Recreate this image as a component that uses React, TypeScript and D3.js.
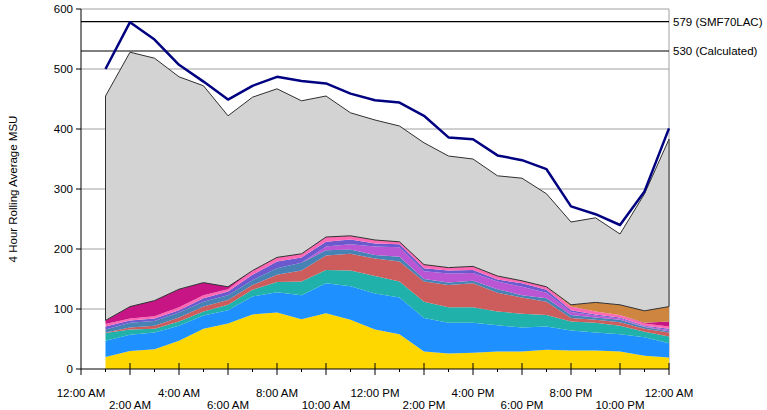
import * as d3 from 'd3';

// hours 1..24 (data points), x axis spans 0..24
const hours = [1, 2, 3, 4, 5, 6, 7, 8, 9, 10, 11, 12, 13, 14, 15, 16, 17, 18, 19, 20, 21, 22, 23, 24];

const tickLabels = [
  '12:00 AM', '2:00 AM', '4:00 AM', '6:00 AM', '8:00 AM', '10:00 AM', '12:00 PM',
  '2:00 PM', '4:00 PM', '6:00 PM', '8:00 PM', '10:00 PM', '12:00 AM',
];

const yTicks = [0, 100, 200, 300, 400, 500, 600];

// stacked layers, bottom to top
const yellow = [20, 30, 33, 47, 67, 76, 91, 94, 83, 93, 82, 66, 58, 29, 26, 27, 29, 29, 32, 31, 31, 29, 22, 19];
const blue = [27, 27, 28, 25, 22, 22, 30, 34, 40, 50, 56, 60, 61, 56, 51, 50, 44, 40, 39, 33, 30, 29, 31, 24];
const teal = [13, 9, 6, 7, 7, 9, 11, 17, 23, 22, 26, 29, 27, 27, 26, 26, 23, 23, 19, 15, 16, 14, 9, 11];
const red = [1, 3, 5, 7, 8, 8, 8, 12, 18, 24, 28, 29, 33, 34, 37, 40, 31, 27, 22, 6, 5, 6, 5, 7];
const steel = [5, 8, 8, 8, 8, 8, 8, 11, 13, 9, 7, 6, 8, 4, 4, 4, 6, 4, 6, 5, 4, 4, 3, 2];
const orchid = [0, 0, 0, 0, 0, 0, 0, 0, 0, 6, 9, 14, 16, 13, 15, 13, 13, 14, 9, 5, 3, 2, 1, 2];
const slate = [5, 4, 4, 4, 6, 6, 9, 11, 9, 8, 8, 5, 5, 5, 5, 5, 3, 6, 5, 3, 2, 2, 1, 2];
const pink = [4, 3, 4, 5, 5, 4, 7, 7, 6, 8, 6, 6, 4, 6, 5, 6, 6, 4, 5, 6, 5, 4, 4, 4];
const violet = [6, 20, 26, 30, 21, 4, 0, 0, 0, 0, 0, 0, 0, 0, 0, 0, 0, 0, 0, 0, 0, 0, 1, 8];
const peru = [0, 0, 0, 0, 0, 0, 0, 0, 0, 0, 0, 0, 0, 0, 0, 0, 0, 0, 0, 3, 15, 17, 20, 25];
const gray = [374, 424, 404, 354, 328, 285, 289, 281, 255, 235, 205, 200, 193, 203, 186, 179, 167, 171, 155, 138, 141, 118, 195, 279];

// navy line on top
const rolling = [500, 578, 549, 507, 479, 449, 472, 487, 480, 476, 459, 448, 444, 422, 386, 383, 356, 348, 333, 271, 258, 240, 296, 401];

const refLines = [
  { value: 579, label: '579 (SMF70LAC)' },
  { value: 530, label: '530 (Calculated)' },
];

const layers = [
  { key: 'yellow', values: yellow, color: '#FFD700' },
  { key: 'blue', values: blue, color: '#1E90FF' },
  { key: 'teal', values: teal, color: '#20B2AA' },
  { key: 'red', values: red, color: '#CD5C5C' },
  { key: 'steel', values: steel, color: '#4682B4' },
  { key: 'orchid', values: orchid, color: '#BA55D3' },
  { key: 'slate', values: slate, color: '#6A5ACD' },
  { key: 'pink', values: pink, color: '#FF69B4' },
  { key: 'violet', values: violet, color: '#C71585' },
  { key: 'peru', values: peru, color: '#CD853F' },
  { key: 'gray', values: gray, color: '#D3D3D3' },
];

const W = 767;
const H = 410;
const left = 81;
const right = 669;
const top = 9;
const bottom = 369;
const font = '"Liberation Sans", Arial, sans-serif';

export default function App() {
  const x = d3.scaleLinear().domain([0, 24]).range([left, right]);
  const y = d3.scaleLinear().domain([0, 600]).range([bottom, top]);

  const rows = hours.map((h, i) => {
    const row: Record<string, number> = { hour: h };
    layers.forEach((l) => (row[l.key] = l.values[i]));
    return row;
  });

  const stacked = d3.stack<Record<string, number>>().keys(layers.map((l) => l.key))(rows);

  const area = d3
    .area<d3.SeriesPoint<Record<string, number>>>()
    .x((d) => x(d.data.hour))
    .y0((d) => y(d[0]))
    .y1((d) => y(d[1]));

  const line = d3
    .line<number>()
    .x((_, i) => x(hours[i]))
    .y((d) => y(d));

  const grayIdx = layers.length - 1;

  return (
    <svg
      width={W}
      height={H}
      style={{ position: 'absolute', left: 0, top: 0, background: '#fff' }}
      fontFamily={font}
    >
      {/* grid */}
      {yTicks.slice(1).map((t) => (
        <line key={t} x1={left} x2={right} y1={y(t)} y2={y(t)} stroke="#a0a0a0" strokeWidth={1} />
      ))}
      <line x1={right} x2={right} y1={top} y2={bottom} stroke="#a0a0a0" />

      {/* stacked areas */}
      {stacked.map((s, i) => (
        <path
          key={s.key}
          d={area(s) || ''}
          fill={layers[i].color}
          stroke={i === grayIdx ? '#303030' : 'none'}
          strokeWidth={i === grayIdx ? 1 : 0}
        />
      ))}

      {/* reference lines */}
      {refLines.map((r) => (
        <g key={r.value}>
          <line x1={left} x2={right} y1={y(r.value)} y2={y(r.value)} stroke="#000" strokeWidth={1.2} />
          <text x={right + 4} y={y(r.value)} dy="0.35em" fontSize={11.5} fill="#000">
            {r.label}
          </text>
        </g>
      ))}

      {/* rolling average */}
      <path d={line(rolling) || ''} fill="none" stroke="#000080" strokeWidth={2.5} strokeLinejoin="round" />

      {/* axes */}
      <line x1={left} x2={left} y1={top} y2={bottom} stroke="#000" />
      <line x1={left} x2={right} y1={bottom} y2={bottom} stroke="#000" />
      {yTicks.map((t) => (
        <g key={t}>
          <line x1={left - 5} x2={left} y1={y(t)} y2={y(t)} stroke="#000" />
          <text x={left - 8} y={y(t)} dy="0.35em" textAnchor="end" fontSize={11.5} fill="#000">
            {t}
          </text>
        </g>
      ))}
      {d3.range(0, 25).map((h) => (
        <line
          key={h}
          x1={x(h)}
          x2={x(h)}
          y1={h % 2 === 0 && h > 0 ? bottom - 6 : bottom}
          y2={h % 2 === 0 ? bottom + 6 : bottom + 3}
          stroke="#000"
        />
      ))}
      {tickLabels.map((label, i) => (
        <text
          key={i}
          x={x(i * 2)}
          y={i % 2 === 0 ? 397 : 410 - 1}
          textAnchor="middle"
          fontSize={11.5}
          fill="#000"
        >
          {label}
        </text>
      ))}

      <text
        transform={`translate(17, ${(top + bottom) / 2}) rotate(-90)`}
        textAnchor="middle"
        fontSize={11.5}
        fill="#000"
      >
        4 Hour Rolling Average MSU
      </text>
    </svg>
  );
}
